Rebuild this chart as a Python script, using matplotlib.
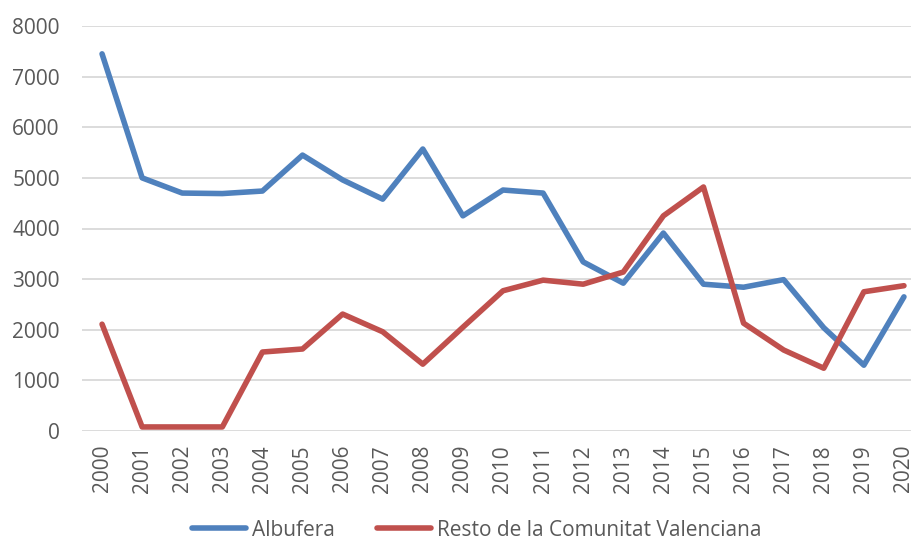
import numpy as np
import matplotlib as mpl
mpl.use('Agg')
from matplotlib import pyplot as plt

years = [str(y) for y in range(2000, 2021)]
albufera = [7450, 5000, 4700, 4690, 4740, 5450, 4960, 4580, 5570, 4250,
            4760, 4700, 3340, 2920, 3910, 2900, 2840, 2990, 2040, 1300, 2650]
resto = [2110, 80, 80, 80, 1560, 1620, 2310, 1960, 1320, 2050,
         2770, 2980, 2900, 3140, 4250, 4820, 2130, 1600, 1240, 2750, 2870]

plt.rcParams['font.family'] = ['Open Sans', 'DejaVu Sans']
text_color = '#595959'

fig = plt.figure(figsize=(9.12, 5.43), dpi=100)
ax = fig.add_axes([82 / 912, 112 / 543, 842 / 912, 405 / 543])

x = np.arange(len(years))
ax.plot(x, albufera, color='#4F81BD', lw=4.0, solid_capstyle='round',
        solid_joinstyle='round', label='Albufera')
ax.plot(x, resto, color='#C0504D', lw=4.0, solid_capstyle='round',
        solid_joinstyle='round', label='Resto de la Comunitat Valenciana')

ax.set_xlim(-0.5, len(years) - 0.5)
ax.set_ylim(0, 8000)
ax.set_yticks(np.arange(0, 8001, 1000))
ax.set_xticks(x)
ax.set_xticklabels(years, rotation=90)
ax.grid(axis='y', color='#D9D9D9', lw=1.3)
ax.set_axisbelow(True)
for s in ax.spines.values():
    s.set_visible(False)
ax.tick_params(length=0, labelsize=15, colors=text_color, pad=10)
ax.tick_params(axis='y', pad=16)

# legend centred a bit right of the figure middle, as in the original
leg = fig.legend(loc='center', bbox_to_anchor=(477 / 912, 1 - 530 / 543), ncol=2,
                 frameon=False, fontsize=15, handlelength=2.6,
                 columnspacing=2.0, handletextpad=0.3)
for t in leg.get_texts():
    t.set_color(text_color)

plt.savefig('out.png', dpi=100)
plt.close()
